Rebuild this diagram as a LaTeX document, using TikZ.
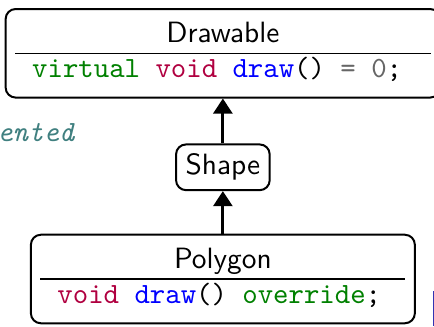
\documentclass[tikz,border=0pt]{standalone}
\usepackage{tikz}
\usetikzlibrary{arrows.meta}

\definecolor{pgkeyword}{HTML}{008000}
\definecolor{pgtype}{HTML}{B00040}
\definecolor{pgfunc}{HTML}{0000FF}
\definecolor{pgop}{HTML}{666666}
\definecolor{pgcomment}{HTML}{408080}
\definecolor{slideblue}{rgb}{0.2,0.2,0.7}

\begin{document}
\begin{tikzpicture}[classbox/.style={draw,rounded corners=3.5pt,line width=0.7pt,
							font=\fontsize{10.3pt}{12pt}\selectfont\sffamily},
						inherit/.style={line width=1pt,-{Triangle[width=6.7pt,length=5.3pt]}}]

		\useasboundingbox (0pt,0pt) rectangle (152.28pt,-114.39pt);

		\node[classbox] (drawable) at (78.2pt,-18.7pt) {\begin{tabular}{c}Drawable\\\hline
			\ttfamily\textcolor{pgkeyword}{virtual} \textcolor{pgtype}{void} \textcolor{pgfunc}{draw}() \textcolor{pgop}{=} \textcolor{pgop}{0};\hspace*{4pt}\end{tabular}};
		\node[classbox] (shape) at (78.2pt,-58.7pt) {Shape};
		\node[classbox] (polygon) at (78.2pt,-97.9pt) {\begin{tabular}{c}Polygon\\\hline
			\ttfamily\textcolor{pgtype}{void} \textcolor{pgfunc}{draw}() \textcolor{pgkeyword}{override};\hspace*{2.5pt}\end{tabular}};

		\node[anchor=base east,inner sep=0pt,text=pgcomment,
			font=\fontsize{10.3pt}{12pt}\selectfont\ttfamily\itshape] (note) at (26.3pt,-49.65pt) {ented};

		\draw[inherit] (shape.north) -- (drawable);
		\draw[inherit] (polygon.north) -- (shape);

		\fill[slideblue] (151.9pt,-102.1pt) rectangle (152.28pt,-114.39pt);

	\end{tikzpicture}
\end{document}
